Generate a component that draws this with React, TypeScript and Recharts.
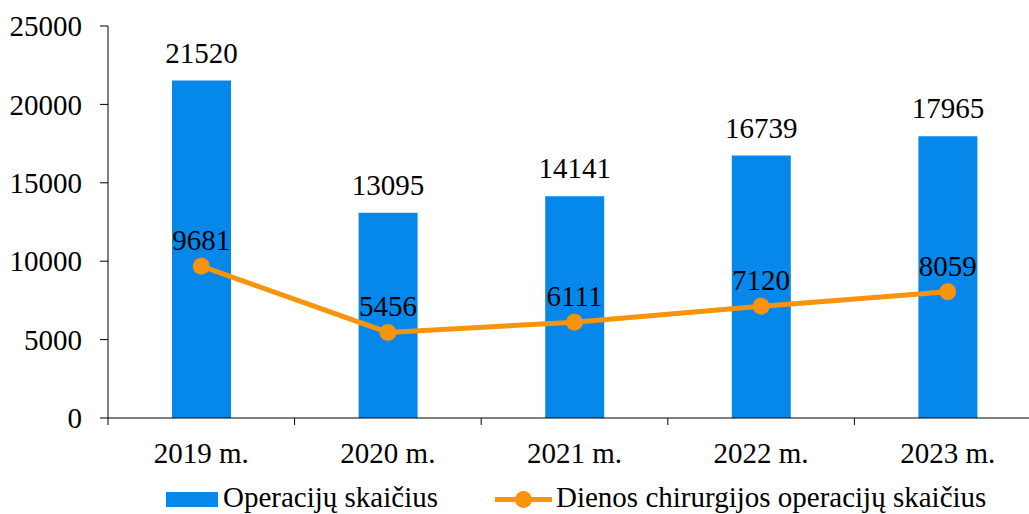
import { BarChart, Bar, Line, XAxis, YAxis, LabelList } from 'recharts';

const years = ['2019 m.', '2020 m.', '2021 m.', '2022 m.', '2023 m.'];
const operacijos = [21520, 13095, 14141, 16739, 17965];
const dienosChirurgija = [9681, 5456, 6111, 7120, 8059];
const yTicks = [0, 5000, 10000, 15000, 20000, 25000];

const seriesNames = ['Operacijų skaičius', 'Dienos chirurgijos operacijų skaičius'];

const COLORS = {
  bar: '#0588EA',
  line: '#F7930C',
};

const FONT = '"Liberation Serif", "Times New Roman", serif';
const FS = 29;

const data = years.map((year, i) => ({
  year,
  operacijos: operacijos[i],
  dienos: dienosChirurgija[i],
}));

const CHART_W = 1045;
const CHART_H = 514;
const MARGIN = { top: 26, right: 4, left: 0, bottom: 36 };
const Y_AXIS_W = 108;
const X_TICK_SIZE = 7;
const X_TICK_MARGIN = 17;
const BAND = (CHART_W - MARGIN.left - MARGIN.right - Y_AXIS_W) / years.length;

const textStyle = { fontFamily: FONT, fontSize: FS };

const XTick = (props: any) => {
  const { x, y, payload, index } = props;
  const axisY = y - X_TICK_SIZE - X_TICK_MARGIN;
  const left = x - BAND / 2;
  const right = x + BAND / 2;
  return (
    <g>
      <line x1={left} x2={left} y1={axisY} y2={axisY + X_TICK_SIZE} stroke="#000" />
      {index === years.length - 1 && (
        <line x1={right} x2={right} y1={axisY} y2={axisY + X_TICK_SIZE} stroke="#000" />
      )}
      <text x={x} y={y} dy="0.71em" textAnchor="middle" fill="#000" style={textStyle}>
        {payload.value}
      </text>
    </g>
  );
};

const YTick = (props: any) => {
  const { x, y, payload } = props;
  return (
    <text x={x} y={y} dy="0.355em" textAnchor="end" fill="#000" style={textStyle}>
      {payload.value}
    </text>
  );
};

const topLabel = (offset: number) => (props: any) => {
  const { x, y, width, value } = props;
  return (
    <text x={Number(x) + (Number(width) || 0) / 2} y={Number(y) - offset} textAnchor="middle" fill="#000" style={textStyle}>
      {value}
    </text>
  );
};

const ChartLegend = () => (
  <svg width={1029} height={44} style={{ position: 'absolute', left: 0, top: 470 }}>
    <rect x={166} y={22} width={52} height={15} fill={COLORS.bar} />
    <text x={223} y={37} fill="#000" style={textStyle}>
      {seriesNames[0]}
    </text>
    <line x1={495} x2={552} y1={29.5} y2={29.5} stroke={COLORS.line} strokeWidth={5} />
    <circle cx={523.5} cy={29.5} r={8.5} fill={COLORS.line} />
    <text x={556} y={37} fill="#000" style={textStyle}>
      {seriesNames[1]}
    </text>
  </svg>
);

export default function App() {
  return (
    <div
      style={{
        position: 'absolute',
        left: 0,
        top: 0,
        width: 1029,
        height: 514,
        overflow: 'hidden',
        background: '#fff',
        fontFamily: FONT,
      }}
    >
      <BarChart width={CHART_W} height={CHART_H} data={data} margin={MARGIN}>
        <XAxis
          dataKey="year"
          axisLine={{ stroke: '#000' }}
          tickLine={false}
          tickSize={X_TICK_SIZE}
          tickMargin={X_TICK_MARGIN}
          tick={<XTick />}
          height={60}
          interval={0}
        />
        <YAxis
          width={Y_AXIS_W}
          domain={[0, 25000]}
          ticks={yTicks}
          interval={0}
          axisLine={{ stroke: '#000' }}
          tickLine={{ stroke: '#000' }}
          tickSize={8}
          tickMargin={18}
          tick={<YTick />}
        />
        <Bar dataKey="operacijos" name={seriesNames[0]} fill={COLORS.bar} barSize={59} isAnimationActive={false}>
          <LabelList dataKey="operacijos" content={topLabel(18)} />
        </Bar>
        <Line
          dataKey="dienos"
          name={seriesNames[1]}
          type="linear"
          stroke={COLORS.line}
          strokeWidth={5}
          dot={{ r: 8.5, fill: COLORS.line, stroke: 'none' }}
          activeDot={false}
          isAnimationActive={false}
        >
          <LabelList dataKey="dienos" content={topLabel(16)} />
        </Line>
      </BarChart>
      <ChartLegend />
    </div>
  );
}
